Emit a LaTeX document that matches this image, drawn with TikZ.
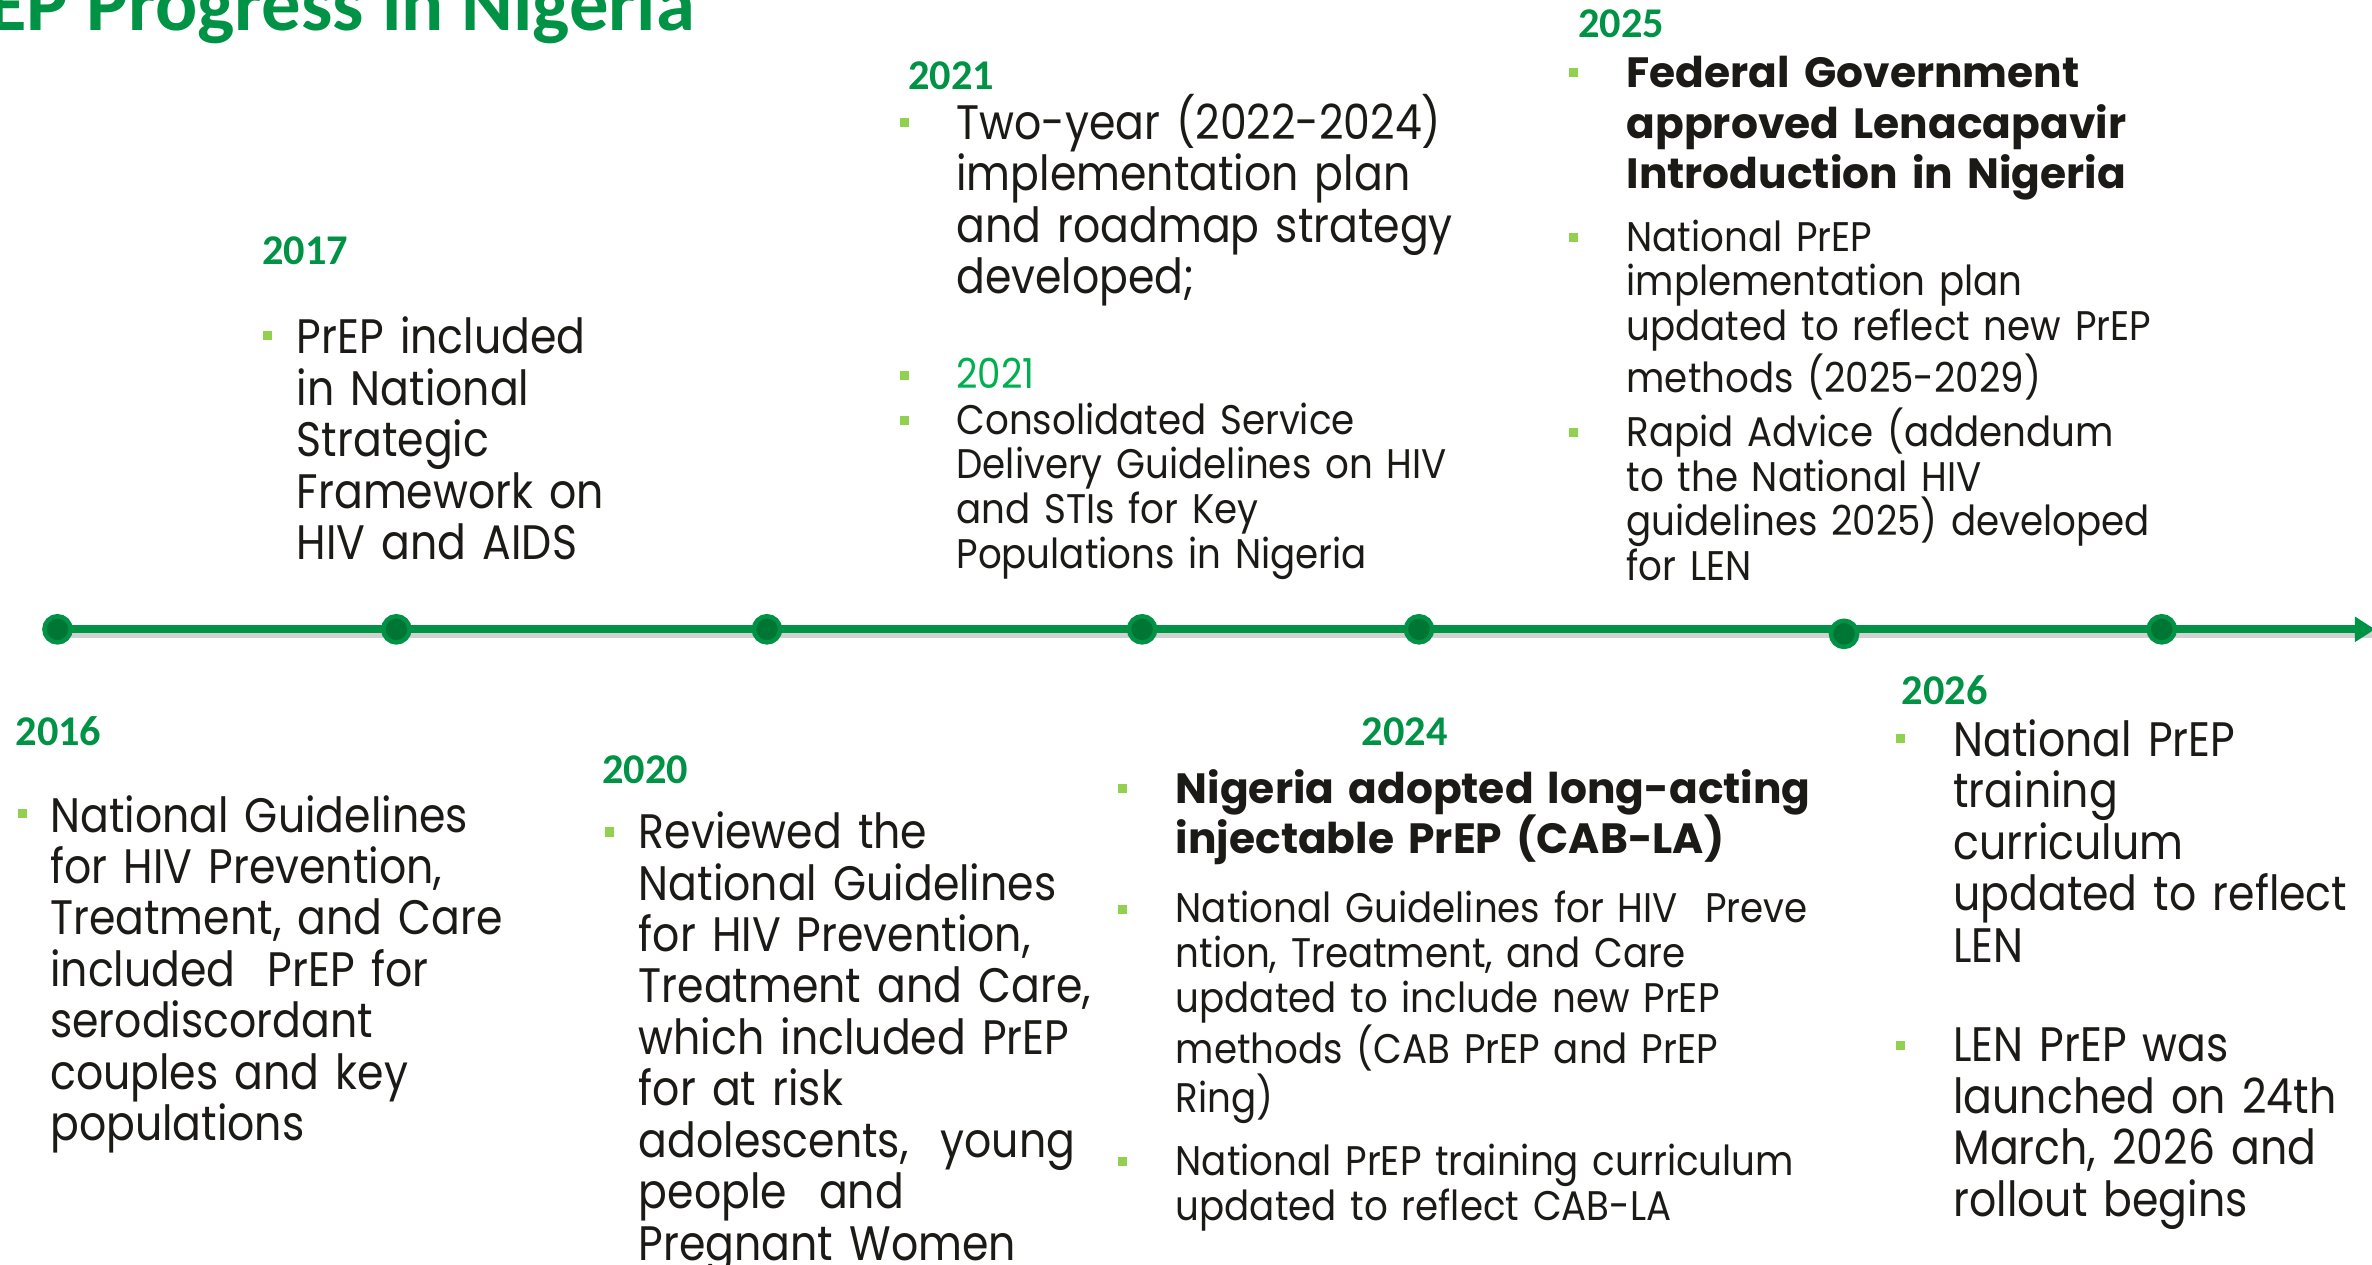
\documentclass[tikz,border=0pt]{standalone}
\usepackage{fontspec}
\setmainfont{Poppins}
\newfontfamily\popn{Poppins}[FakeStretch=0.88]
\newfontfamily\popsm{Poppins}[FakeStretch=0.9]
\newfontfamily\calfont{Carlito}
\usetikzlibrary{arrows.meta}
\definecolor{prgreen}{RGB}{0,146,69}
\definecolor{dotdark}{RGB}{0,118,52}
\definecolor{bulgreen}{RGB}{146,208,80}
\definecolor{litgreen}{RGB}{0,176,80}
\definecolor{ink}{RGB}{28,26,22}
\tikzset{
    yr/.style={font=\calfont\bfseries\fontsize{21}{24}\selectfont, text=prgreen, anchor=base west, inner sep=0pt},
    txt/.style={font=\popn\fontsize{24}{25.5}\selectfont, text=ink, anchor=base west, inner sep=0pt, text width=15cm, align=left},
    txtsm/.style={txt, font=\popsm\fontsize{20.5}{22.2}\selectfont},
    hd/.style={txt, font=\rmfamily\bfseries\fontsize{21}{25}\selectfont},
    bul/.style={rectangle, fill=bulgreen, minimum size=4.5pt, inner sep=0pt},
    dot/.style={circle, fill=dotdark, draw=prgreen, line width=2.2pt, minimum size=13pt, inner sep=0pt}
}
\begin{document}
\begin{tikzpicture}[x=0.75pt, y=-0.75pt]
    \useasboundingbox (0,0) rectangle (1568,836);
    % title
    \node[anchor=base west, inner sep=0pt, text=prgreen, font=\calfont\bfseries\fontsize{39}{44}\selectfont] (title) at (-54,20) {PrEP Progress in Nigeria};
    % timeline
    \coordinate (start) at (38,416);
    \coordinate (tip) at (1570,416);
    \draw[black!18, line width=3pt] ([yshift=-3pt]start) -- ([yshift=-3pt]tip);
    \draw[prgreen, line width=4pt, -{Triangle[length=10pt, width=12pt]}] (start) -- (tip);
    \foreach \x/\y [count=\i] in {38/416, 262/416, 507/416, 755/416, 938/416, 1219/419, 1429/416}{
            \node[dot] (d\i) at (\x,\y) {};
        }
    % years
    \node[yr] (y2016) at (10,493) {2016};
    \node[yr] (y2017) at (173,175) {2017};
    \node[yr] (y2020) at (398,518) {2020};
    \node[yr] (y2021) at (600,59) {2021};
    \node[yr] (y2024) at (900,493) {2024};
    \node[yr] (y2025) at (1043,25) {2025};
    \node[yr] (y2026) at (1257,466) {2026};
    % 2016
    \node[bul] (b16) at (15,538) {};
    \node[txt] (t16) at (33,550) {National Guidelines\\for HIV Prevention,\\Treatment, and Care\\included~ PrEP for\\serodiscordant\\couples and key\\populations};
    % 2017
    \node[bul] (b17) at (177,222) {};
    \node[txt] (t17) at (196,234) {PrEP included\\in National\\Strategic\\Framework on\\HIV and AIDS};
    % 2020
    \node[bul] (b20) at (403,550) {};
    \node[txt] (t20) at (422,561) {Reviewed the\\National Guidelines\\for HIV Prevention,\\Treatment and Care,\\which included PrEP\\for at risk\\adolescents,~ young\\people~ and\\Pregnant Women};
    % 2021
    \node[bul] (b21a) at (598,81) {};
    \node[txt] (t21a) at (632,92) {Two-year (2022-2024)\\implementation plan\\and roadmap strategy\\developed;};
    \node[bul] (b21b) at (598,248) {};
    \node[txtsm, text=litgreen] (t21b) at (632,257) {2021};
    \node[bul] (b21c) at (598,278) {};
    \node[txtsm] (t21c) at (632,287) {Consolidated Service\\Delivery Guidelines on HIV\\and STIs for Key\\Populations in Nigeria};
    % 2024
    \node[bul] (b24a) at (742,521) {};
    \node[hd] (t24a) at (777,531) {Nigeria adopted long-acting\\injectable PrEP (CAB-LA)};
    \node[bul] (b24b) at (742,601) {};
    \node[txtsm] (t24b) at (777,610) {National Guidelines for HIV~ Preve\\ntion, Treatment, and Care\\updated to include new PrEP\\methods (CAB PrEP and PrEP\\Ring)};
    \node[bul] (b24c) at (742,768) {};
    \node[txtsm] (t24c) at (777,777) {National PrEP training curriculum\\updated to reflect CAB-LA};
    % 2025
    \node[bul] (b25a) at (1040,48) {};
    \node[hd] (t25a) at (1075,58) {Federal Government\\approved Lenacapavir\\Introduction in Nigeria};
    \node[bul] (b25b) at (1040,157) {};
    \node[txtsm] (t25b) at (1075,166) {National PrEP\\implementation plan\\updated to reflect new PrEP\\methods (2025-2029)};
    \node[bul] (b25c) at (1040,286) {};
    \node[txtsm] (t25c) at (1075,295) {Rapid Advice (addendum\\to the National HIV\\guidelines 2025) developed\\for LEN};
    % 2026
    \node[bul] (b26a) at (1256,488) {};
    \node[txt] (t26a) at (1291,500) {National PrEP\\training\\curriculum\\updated to reflect\\LEN};
    \node[bul] (b26b) at (1256,691) {};
    \node[txt] (t26b) at (1291,702) {LEN PrEP was\\launched on 24th\\March, 2026 and\\rollout begins};
\end{tikzpicture}
\end{document}
